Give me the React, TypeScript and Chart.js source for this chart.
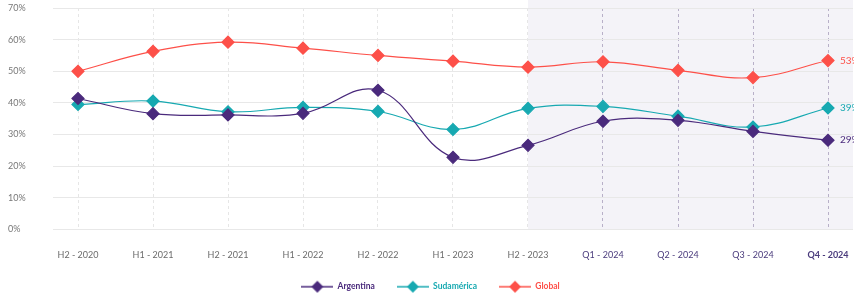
import React, { useEffect, useRef } from "react";
import { Chart, registerables } from "chart.js";

Chart.register(...registerables);

const categories = [
  "H2 - 2020", "H1 - 2021", "H2 - 2021", "H1 - 2022", "H2 - 2022",
  "H1 - 2023", "H2 - 2023", "Q1 - 2024", "Q2 - 2024", "Q3 - 2024", "Q4 - 2024",
];
const argentina = [41.4, 36.6, 36.2, 36.7, 44.0, 22.8, 26.6, 34.2, 34.5, 31.0, 28.2];
const sudamerica = [39.5, 40.6, 37.2, 38.6, 37.3, 31.6, 38.3, 38.9, 35.8, 32.4, 38.4];
const global = [50.0, 56.3, 59.2, 57.3, 55.0, 53.2, 51.3, 53.0, 50.3, 48.0, 53.4];
const endLabels = ["29%", "39%", "53%"];
const yTicks = [0, 10, 20, 30, 40, 50, 60, 70];
const shadeFromIndex = 6;

const COLORS = { argentina: "#4a2a7c", sudamerica: "#17a9b1", global: "#fd5049" };
const FONT = "Lato, 'DejaVu Sans', sans-serif";

function legendIcon(color: string) {
  const c = document.createElement("canvas");
  c.width = 32;
  c.height = 14;
  const ctx = c.getContext("2d")!;
  ctx.strokeStyle = color;
  ctx.lineWidth = 1.5;
  ctx.beginPath();
  ctx.moveTo(0, 7);
  ctx.lineTo(32, 7);
  ctx.stroke();
  ctx.fillStyle = color;
  ctx.beginPath();
  ctx.moveTo(16, 1);
  ctx.lineTo(22, 7);
  ctx.lineTo(16, 13);
  ctx.lineTo(10, 7);
  ctx.closePath();
  ctx.fill();
  return c;
}

export default function App() {
  const ref = useRef<HTMLCanvasElement>(null);
  useEffect(() => {
    const mk = (label: string, data: number[], color: string) => ({
      label,
      data: data.map((v, i) => ({ x: i, y: v })),
      borderColor: color,
      backgroundColor: color,
      borderWidth: 1.2,
      pointStyle: "rectRot" as const,
      pointRadius: 6,
      pointHoverRadius: 6,
      tension: 0.4,
    });
    const series = [
      { name: "Argentina", data: argentina, color: COLORS.argentina },
      { name: "Sudamérica", data: sudamerica, color: COLORS.sudamerica },
      { name: "Global", data: global, color: COLORS.global },
    ];
    const icons = series.map((s) => legendIcon(s.color));

    const shadePlugin = {
      id: "shade",
      beforeDraw(chart: any) {
        const { ctx, chartArea } = chart;
        const x0 = chart.scales.x.getPixelForValue(shadeFromIndex);
        ctx.save();
        ctx.fillStyle = "#f4f3f8";
        ctx.fillRect(x0, 0, chartArea.right - x0, chartArea.bottom);
        ctx.restore();
      },
    };
    const endLabelPlugin = {
      id: "endLabels",
      afterDatasetsDraw(chart: any) {
        const { ctx } = chart;
        ctx.save();
        ctx.font = `10px ${FONT}`;
        ctx.textBaseline = "middle";
        ctx.textAlign = "left";
        chart.data.datasets.forEach((ds: any, i: number) => {
          const meta = chart.getDatasetMeta(i);
          const pt = meta.data[meta.data.length - 1];
          ctx.fillStyle = ds.borderColor;
          ctx.fillText(endLabels[i], pt.x + 12, pt.y);
        });
        ctx.restore();
      },
    };

    const chart = new Chart(ref.current!, {
      type: "line",
      data: {
        datasets: series.map((s) => mk(s.name, s.data, s.color)),
      },
      plugins: [shadePlugin, endLabelPlugin],
      options: {
        animation: false,
        responsive: false,
        devicePixelRatio: 1,
        layout: { autoPadding: false, padding: { left: 8, right: 17, top: 8, bottom: -7 } },
        scales: {
          x: {
            type: "linear",
            min: -1 / 3,
            max: categories.length - 1 + 1 / 3,
            afterBuildTicks: (scale: any) => {
              scale.ticks = categories.map((_, i) => ({ value: i }));
            },
            afterFit: (scale: any) => {
              scale.height = 31;
              scale.paddingTop = 0;
              scale.paddingBottom = 0;
            },
            grid: {
              color: (ctx: any) => (ctx.index >= 7 ? "#b8b0c8" : "#e6e6e6"),
              drawTicks: false,
            },
            border: { display: false, dash: [3, 3] },
            ticks: {
              autoSkip: false,
              maxRotation: 0,
              padding: 20,
              callback: (v: any) => categories[v as number] ?? "",
              color: (ctx: any) => (ctx.index >= 7 ? "#4a3b7c" : "#6b6b6b"),
              font: (ctx: any) => ({
                family: FONT,
                size: 9,
                weight: ctx.index === categories.length - 1 ? "bold" : "normal",
              }),
            },
          },
          y: {
            min: 0,
            max: 70,
            afterBuildTicks: (scale: any) => {
              scale.ticks = yTicks.map((v) => ({ value: v }));
            },
            afterFit: (scale: any) => {
              scale.width = 45;
              scale.paddingTop = 0;
              scale.paddingBottom = 0;
            },
            grid: { color: "#e8e8e8", drawTicks: false },
            border: { display: false },
            ticks: {
              crossAlign: "far",
              padding: 8,
              color: "#777777",
              font: { family: FONT, size: 9 },
              callback: (v: any) => `${v}%`,
            },
          },
        },
        plugins: {
          tooltip: { enabled: false },
          legend: {
            position: "bottom",
            labels: {
              usePointStyle: true,
              pointStyleWidth: 32,
              padding: 22,
              font: { family: FONT, size: 8.5, weight: "bold" },
              generateLabels: (chart: any) =>
                chart.data.datasets.map((ds: any, i: number) => ({
                  text: ds.label,
                  fillStyle: ds.borderColor,
                  strokeStyle: ds.borderColor,
                  fontColor: ds.borderColor,
                  pointStyle: icons[i],
                  lineWidth: 0,
                  hidden: false,
                  datasetIndex: i,
                })),
            },
          },
        },
      },
    } as any);
    return () => chart.destroy();
  }, []);
  return (
    <div style={{ position: "absolute", left: 0, top: 0, width: 870, height: 294, background: "#fff" }}>
      <canvas ref={ref} width={870} height={294} style={{ width: 870, height: 294 }} />
    </div>
  );
}
